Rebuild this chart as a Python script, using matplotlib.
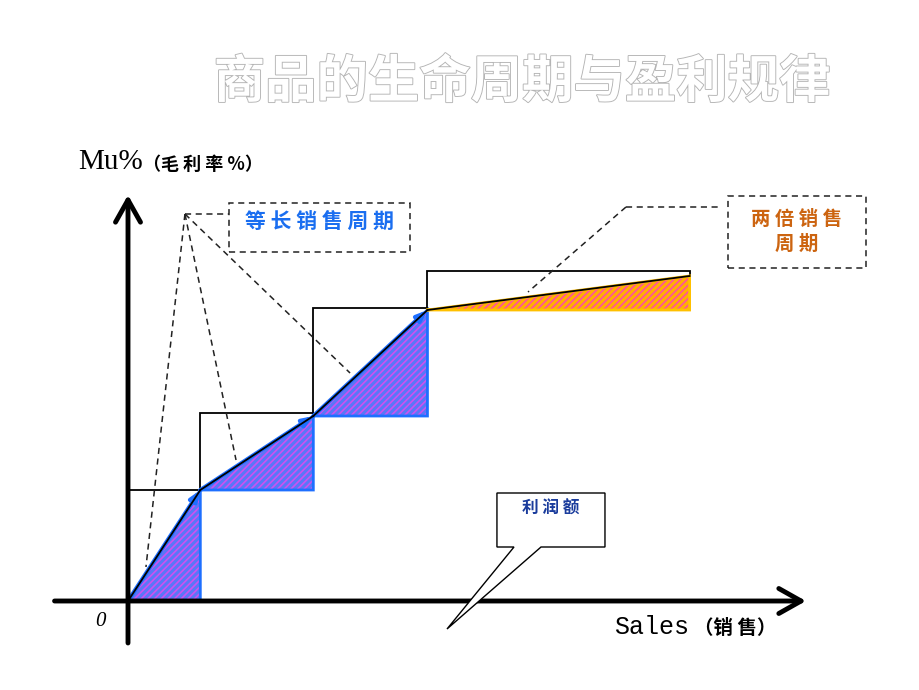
import matplotlib
matplotlib.use("Agg")
import matplotlib.pyplot as plt
import matplotlib.patheffects as pe
from matplotlib.patches import Rectangle, Polygon

plt.rcParams['font.family'] = ['Noto Sans CJK SC', 'DejaVu Sans']
plt.rcParams['hatch.linewidth'] = 1.2

# sales cycle boundaries (cycle length = 1) and Mu% at each cycle
sales_edges = [0, 0.64, 1.64, 2.65, 4.97]
mu_start = [0, 11.1, 18.5, 29.1]
mu_end = [11.1, 18.5, 29.1, 32.5]
box_top = [11.1, 18.8, 29.3, 33.0]
fill_colors = ['#5a76f8', '#5a76f8', '#5a76f8', '#ffb000']
hatch_colors = ['#cc52f0', '#cc52f0', '#cc52f0', '#ff4fa0']
edge_colors = ['#1e6fff', '#1e6fff', '#1e6fff', '#ffc000']

title = '商品的生命周期与盈利规律'
label_equal = '等 长 销 售 周 期'
label_double = '两 倍 销 售\n周 期'
label_profit = '利 润 额'

fig = plt.figure(figsize=(9.2, 6.9), dpi=100)
ax = fig.add_axes([128 / 920, 89 / 690, 678 / 920, 400 / 690])
ax.set_xlim(0, 6)
ax.set_ylim(0, 40)
ax.axis('off')

# rectangles for each cycle
for i in range(len(mu_start)):
    x0, x1 = sales_edges[i], sales_edges[i + 1]
    ax.add_patch(Rectangle((x0, mu_start[i]), x1 - x0, box_top[i] - mu_start[i],
                           fill=False, edgecolor='black', lw=1.3, zorder=2))

# profit areas
for i in range(len(mu_start)):
    x0, x1 = sales_edges[i], sales_edges[i + 1]
    pts = [(x0, mu_start[i]), (x1, mu_end[i]), (x1, mu_start[i])]
    ax.add_patch(Polygon(pts, closed=True, facecolor=fill_colors[i], edgecolor='none', zorder=3))
    ax.add_patch(Polygon(pts, closed=True, facecolor='none', edgecolor=hatch_colors[i],
                         hatch='/////', lw=0, zorder=3))
    ax.plot([x0, x1, x1, x0], [mu_start[i], mu_end[i], mu_start[i], mu_start[i]],
            color=edge_colors[i], lw=2, zorder=4, solid_joinstyle='miter')
    if i < 3:
        ax.annotate('', xy=(x1, mu_end[i]), xytext=(x0, mu_start[i]),
                    arrowprops=dict(arrowstyle='-|>,head_length=0.5,head_width=0.2',
                                    color='#1e6fff', lw=3, mutation_scale=12,
                                    shrinkA=0, shrinkB=0), zorder=4)
    ax.plot([x0, x1], [mu_start[i], mu_end[i]], color='black', lw=1.3, zorder=5)

# axes with open arrow heads
ax.annotate('', xy=(0, 40.6), xytext=(0, -4.2), annotation_clip=False,
            arrowprops=dict(arrowstyle='->,head_length=0.8,head_width=0.45', color='black',
                            lw=3.5, mutation_scale=20, shrinkA=0, shrinkB=0), zorder=6)
ax.annotate('', xy=(6.0, 0), xytext=(-0.65, 0), annotation_clip=False,
            arrowprops=dict(arrowstyle='->,head_length=0.8,head_width=0.45', color='black',
                            lw=3.5, mutation_scale=20, shrinkA=0, shrinkB=0), zorder=6)

dash = dict(color='#222222', lw=1.1, ls=(0, (4, 3)), clip_on=False, zorder=5)

# equal length callout
hub = (0.504, 38.7)
for tx, ty in [(0.159, 3.4), (0.956, 14.1), (1.965, 22.8)]:
    ax.plot([hub[0], tx], [hub[1], ty], **dash)
ax.plot([hub[0], 0.894], [hub[1], hub[1]], **dash)
ax.add_patch(Rectangle((0.894, 34.9), 1.602, 4.9, fill=False, clip_on=False,
                       edgecolor='#222222', lw=1.1, ls=(0, (4, 3))))
ax.text(1.695, 38.0, label_equal, color='#1a6ef0', fontsize=15, fontweight='bold',
        ha='center', va='center')

# double length callout
hub2 = (4.407, 39.4)
ax.plot([hub2[0], 3.54], [hub2[1], 30.9], **dash)
ax.plot([hub2[0], 5.25], [hub2[1], hub2[1]], **dash)
ax.add_patch(Rectangle((5.31, 33.3), 1.22, 7.2, fill=False, clip_on=False,
                       edgecolor='#222222', lw=1.1, ls=(0, (4, 3))))
ax.text(5.92, 36.9, label_double, color='#cc6410', fontsize=14, fontweight='bold',
        ha='center', va='center', linespacing=1.4)

# profit callout
ax.add_patch(Polygon([(3.265, 10.8), (4.221, 10.8), (4.221, 5.4), (3.655, 5.4),
                      (2.823, -2.8), (3.416, 5.4), (3.265, 5.4)], closed=True,
                     facecolor='white', edgecolor='black', lw=1, clip_on=False, zorder=7))
ax.text(3.743, 9.2, label_profit, color='#1a3c9c', fontsize=12, fontweight='bold',
        ha='center', va='center', zorder=8)

# texts
fig.text(522 / 920, 1 - 82 / 690, title, fontsize=37, fontweight='bold', color='white',
         ha='center', va='center',
         path_effects=[pe.withStroke(linewidth=1.3, foreground='#b4b4b4')])
fig.text(78 / 920, 1 - 162 / 690, 'Mu%', fontsize=21, family='Liberation Serif',
         ha='left', va='center')
fig.text(143 / 920, 1 - 164 / 690, '（毛 利 率 %）', fontsize=13, fontweight='bold',
         ha='left', va='center')
fig.text(614 / 920, 1 - 627 / 690, 'Sales', fontsize=18, family='Liberation Mono',
         ha='left', va='center')
fig.text(694 / 920, 1 - 629 / 690, '（销 售）', fontsize=14, fontweight='bold',
         ha='left', va='center')
fig.text(100 / 920, 1 - 622 / 690, '0', fontsize=15, style='italic',
         family='Liberation Serif', ha='center', va='center')

fig.savefig('out.png', dpi=100)
